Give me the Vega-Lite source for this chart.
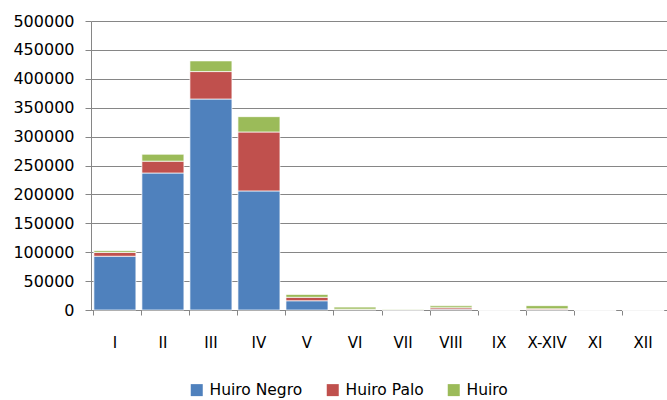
{
  "$schema": "https://vega.github.io/schema/vega-lite/v6.json",
  "autosize": "none",
  "width": 576,
  "height": 289,
  "padding": {"left": 91, "top": 21, "right": 0, "bottom": 90},
  "background": "white",
  "config": {
    "font": "DejaVu Sans",
    "view": {"stroke": null}
  },
  "data": {
    "values": [
      {"mes": "I", "tipo": "Huiro Negro", "orden": 1, "valor": 93000},
      {"mes": "I", "tipo": "Huiro Palo", "orden": 2, "valor": 6500},
      {"mes": "I", "tipo": "Huiro", "orden": 3, "valor": 3000},
      {"mes": "II", "tipo": "Huiro Negro", "orden": 1, "valor": 237000},
      {"mes": "II", "tipo": "Huiro Palo", "orden": 2, "valor": 20500},
      {"mes": "II", "tipo": "Huiro", "orden": 3, "valor": 12000},
      {"mes": "III", "tipo": "Huiro Negro", "orden": 1, "valor": 365000},
      {"mes": "III", "tipo": "Huiro Palo", "orden": 2, "valor": 47500},
      {"mes": "III", "tipo": "Huiro", "orden": 3, "valor": 18500},
      {"mes": "IV", "tipo": "Huiro Negro", "orden": 1, "valor": 206000},
      {"mes": "IV", "tipo": "Huiro Palo", "orden": 2, "valor": 102000},
      {"mes": "IV", "tipo": "Huiro", "orden": 3, "valor": 26500},
      {"mes": "V", "tipo": "Huiro Negro", "orden": 1, "valor": 16000},
      {"mes": "V", "tipo": "Huiro Palo", "orden": 2, "valor": 6000},
      {"mes": "V", "tipo": "Huiro", "orden": 3, "valor": 5000},
      {"mes": "VI", "tipo": "Huiro Negro", "orden": 1, "valor": 1000},
      {"mes": "VI", "tipo": "Huiro Palo", "orden": 2, "valor": 500},
      {"mes": "VI", "tipo": "Huiro", "orden": 3, "valor": 3500},
      {"mes": "VII", "tipo": "Huiro Negro", "orden": 1, "valor": 300},
      {"mes": "VII", "tipo": "Huiro Palo", "orden": 2, "valor": 200},
      {"mes": "VII", "tipo": "Huiro", "orden": 3, "valor": 900},
      {"mes": "VIII", "tipo": "Huiro Negro", "orden": 1, "valor": 1500},
      {"mes": "VIII", "tipo": "Huiro Palo", "orden": 2, "valor": 2500},
      {"mes": "VIII", "tipo": "Huiro", "orden": 3, "valor": 3200},
      {"mes": "IX", "tipo": "Huiro Negro", "orden": 1, "valor": 0},
      {"mes": "IX", "tipo": "Huiro Palo", "orden": 2, "valor": 0},
      {"mes": "IX", "tipo": "Huiro", "orden": 3, "valor": 0},
      {"mes": "X-XIV", "tipo": "Huiro Negro", "orden": 1, "valor": 500},
      {"mes": "X-XIV", "tipo": "Huiro Palo", "orden": 2, "valor": 1500},
      {"mes": "X-XIV", "tipo": "Huiro", "orden": 3, "valor": 5500},
      {"mes": "XI", "tipo": "Huiro Negro", "orden": 1, "valor": 0},
      {"mes": "XI", "tipo": "Huiro Palo", "orden": 2, "valor": 0},
      {"mes": "XI", "tipo": "Huiro", "orden": 3, "valor": 0},
      {"mes": "XII", "tipo": "Huiro Negro", "orden": 1, "valor": 0},
      {"mes": "XII", "tipo": "Huiro Palo", "orden": 2, "valor": 0},
      {"mes": "XII", "tipo": "Huiro", "orden": 3, "valor": 0}
    ]
  },
  "mark": {"type": "bar", "stroke": "white", "strokeWidth": 0.7},
  "encoding": {
    "x": {
      "field": "mes",
      "type": "nominal",
      "sort": ["I", "II", "III", "IV", "V", "VI", "VII", "VIII", "IX", "X-XIV", "XI", "XII"],
      "scale": {"paddingInner": 0.125, "paddingOuter": 0.06},
      "axis": {
        "title": null,
        "labelAngle": 0,
        "labelFont": "DejaVu Sans",
        "labelFontSize": 15,
        "labelColor": "#000000",
        "labelPadding": 20,
        "domainColor": "#868686",
        "tickColor": "#868686",
        "tickSize": 5,
        "bandPosition": 0,
        "grid": false
      }
    },
    "y": {
      "field": "valor",
      "type": "quantitative",
      "stack": "zero",
      "scale": {"domain": [0, 500000], "nice": false},
      "axis": {
        "title": null,
        "values": [0, 50000, 100000, 150000, 200000, 250000, 300000, 350000, 400000, 450000, 500000],
        "format": "d",
        "labelFont": "DejaVu Sans",
        "labelFontSize": 16,
        "labelColor": "#000000",
        "labelPadding": 11,
        "domainColor": "#868686",
        "tickColor": "#868686",
        "tickSize": 6,
        "gridColor": "#868686",
        "gridWidth": 1
      }
    },
    "color": {
      "field": "tipo",
      "type": "nominal",
      "scale": {
        "domain": ["Huiro Negro", "Huiro Palo", "Huiro"],
        "range": ["#4F81BD", "#C0504D", "#9BBB59"]
      },
      "legend": {
        "title": null,
        "orient": "none",
        "direction": "horizontal",
        "legendX": 98,
        "legendY": 361,
        "symbolType": "square",
        "symbolSize": 144,
        "symbolStrokeWidth": 0,
        "labelFont": "DejaVu Sans",
        "labelFontSize": 15.5,
        "labelColor": "#000000",
        "labelOffset": 5,
        "columnPadding": 22
      }
    },
    "order": {"field": "orden", "type": "quantitative"}
  }
}
